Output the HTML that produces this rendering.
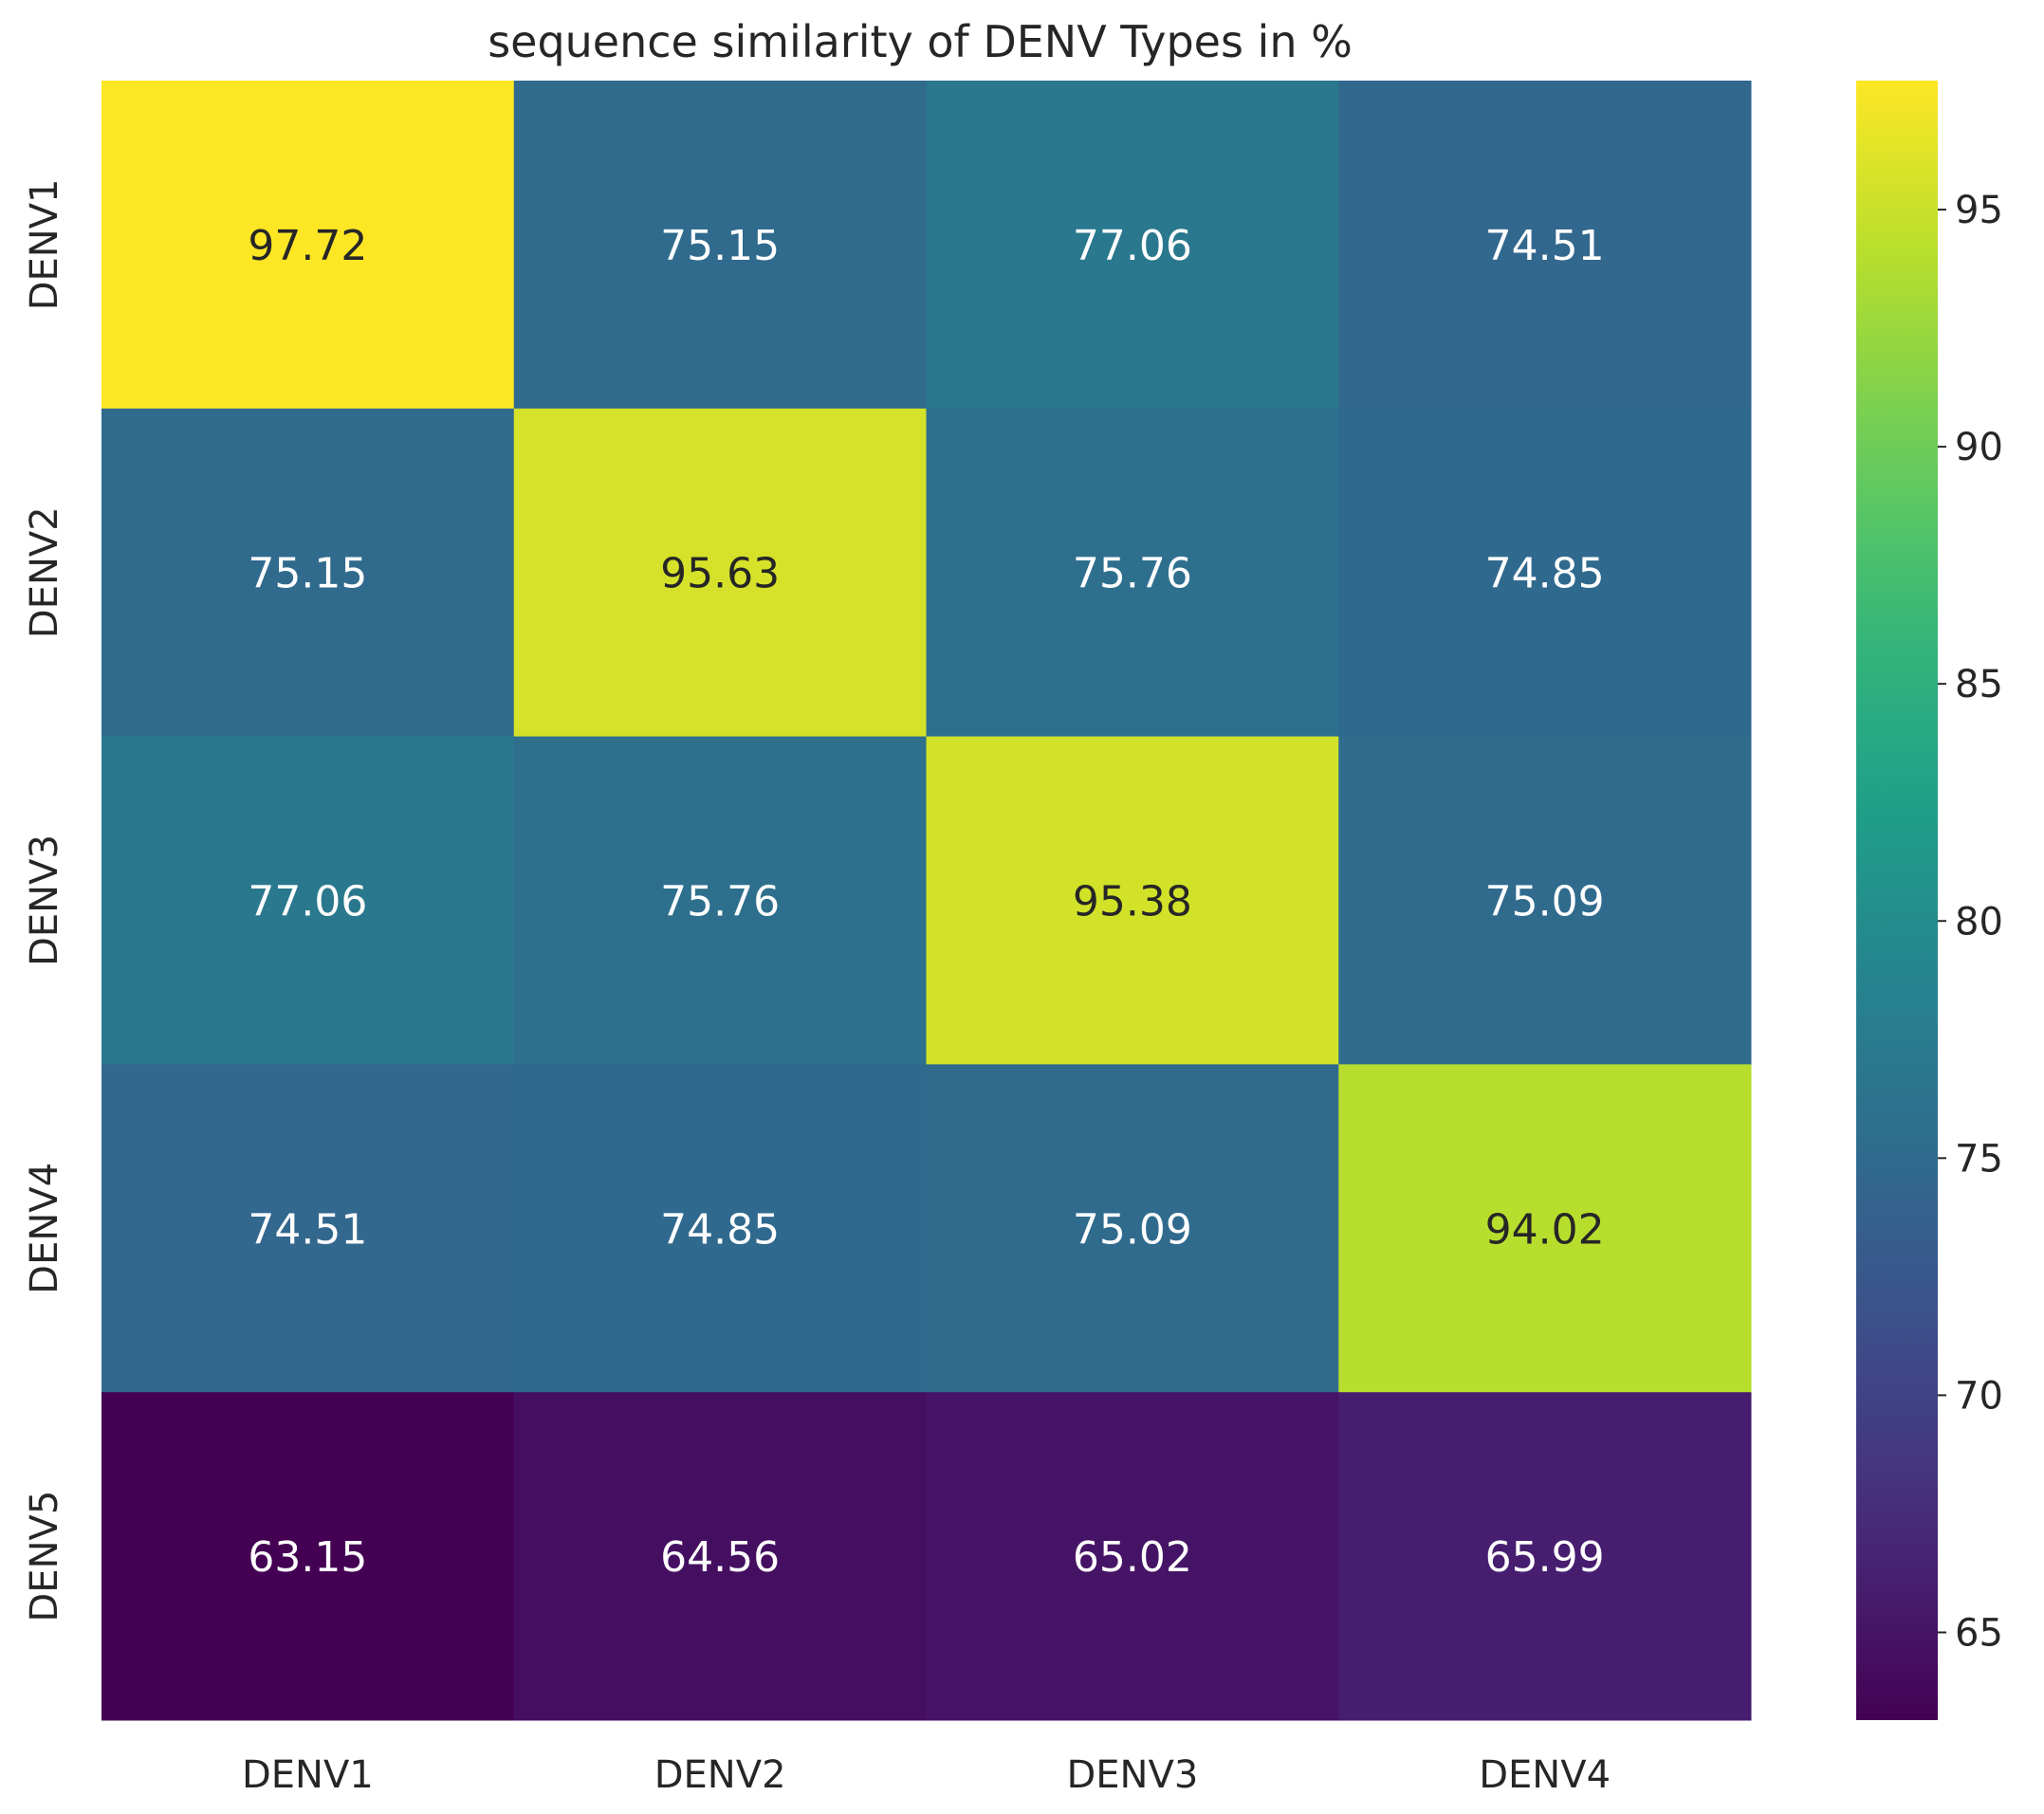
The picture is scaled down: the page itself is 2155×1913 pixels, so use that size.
<!DOCTYPE html>
<html><head><meta charset="utf-8"><style>
html,body{margin:0;padding:0;background:#fff;}
svg{display:block;font-family:"DejaVu Sans","Liberation Sans",sans-serif;}
</style></head><body>
<svg id="chart" width="2155" height="1913" viewBox="0 0 2155 1913" xmlns="http://www.w3.org/2000/svg">
<defs><linearGradient id="vg" x1="0" y1="1" x2="0" y2="0"></linearGradient></defs>
<text x="970" y="60" font-size="46" text-anchor="middle" fill="#262626">sequence similarity of DENV Types in %</text>
<g id="cells"></g>
<g id="cbar"></g>
</svg>
<script>
const rowLabels = ["DENV1","DENV2","DENV3","DENV4","DENV5"];
const colLabels = ["DENV1","DENV2","DENV3","DENV4"];
const row1 = [97.72,75.15,77.06,74.51];
const row2 = [75.15,95.63,75.76,74.85];
const row3 = [77.06,75.76,95.38,75.09];
const row4 = [74.51,74.85,75.09,94.02];
const row5 = [63.15,64.56,65.02,65.99];
const cbTicks = [65,70,75,80,85,90,95];
const values = [row1,row2,row3,row4,row5];
const vmin = 63.15, vmax = 97.72;
const X0=107, X1=1846, Y0=85, Y1=1814;
const CBX=1957, CBW=86;
const NS="http://www.w3.org/2000/svg";
const vir=[[68,1,84],[72,40,120],[62,74,137],[49,104,142],[38,130,142],[31,158,137],[53,183,121],[109,205,89],[180,222,44],[253,231,37]];
function viridis(t){t=Math.max(0,Math.min(1,t));const p=t*(vir.length-1);const i=Math.min(vir.length-2,Math.floor(p));const f=p-i;const a=vir[i],b=vir[i+1];return `rgb(${a.map((v,k)=>Math.round(v+(b[k]-v)*f)).join(",")})`;}
function norm(v){return (v-vmin)/(vmax-vmin);}
const cw=(X1-X0)/colLabels.length, ch=(Y1-Y0)/rowLabels.length;
function xPos(j){return X0+j*cw;}
function yPos(i){return Y0+i*ch;}
function cbY(v){return Y1-(v-vmin)/(vmax-vmin)*(Y1-Y0);}
function mk(tag,attrs,parent){const e=document.createElementNS(NS,tag);for(const k in attrs)e.setAttribute(k,attrs[k]);parent.appendChild(e);return e;}
const cells=document.getElementById('cells');
values.forEach((row,i)=>{row.forEach((v,j)=>{
  const r=mk('rect',{x:xPos(j),y:yPos(i),width:cw+0.5,height:ch+0.5,fill:viridis(norm(v))},cells);
  
  
  const t=mk('text',{x:xPos(j)+cw/2,y:yPos(i)+ch/2+16,'font-size':44,'text-anchor':'middle',fill:norm(v)>0.6?'#262626':'#ffffff'},cells);
  t.textContent=v.toFixed(2);
  
  
});});
rowLabels.forEach((l,i)=>{
  const cy=yPos(i)+ch/2;
  const t=mk('text',{x:0,y:0,'font-size':40,'text-anchor':'middle',fill:'#262626',transform:`translate(60,${cy}) rotate(-90)`},cells);
  t.textContent=l;
  
  
});
colLabels.forEach((l,j)=>{
  const t=mk('text',{x:xPos(j)+cw/2,y:1885,'font-size':40,'text-anchor':'middle',fill:'#262626'},cells);
  t.textContent=l;
  
  
});
const g=document.getElementById('vg');
for(let k=0;k<=20;k++){mk('stop',{offset:(k/20),'stop-color':viridis(k/20)},g);}
const cb=document.getElementById('cbar');
const bar=mk('rect',{x:CBX,y:Y0,width:CBW,height:Y1-Y0,fill:'url(#vg)'},cb);


cbTicks.forEach(v=>{
  const y=cbY(v);
  const ln=mk('line',{x1:CBX+CBW,x2:CBX+CBW+9,y1:y,y2:y,stroke:'#262626','stroke-width':2},cb);
  
  
  const t=mk('text',{x:CBX+CBW+18,y:y+14,'font-size':40,fill:'#262626'},cb);
  t.textContent=v;
  
  
});
</script>
</body></html>
